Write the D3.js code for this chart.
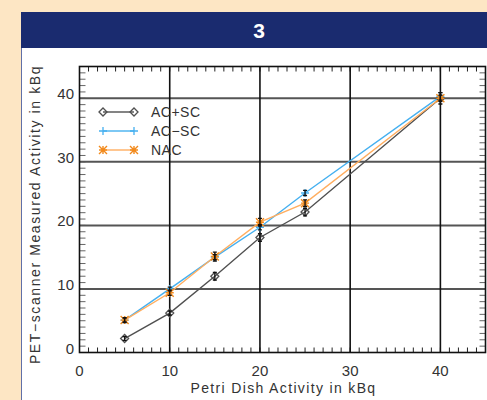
<!DOCTYPE html>
<html><head><meta charset="utf-8">
<script src="https://cdn.jsdelivr.net/npm/d3@7"></script>
<style>
html,body{margin:0;padding:0;background:#fde6c4;}
svg{display:block;}
</style></head>
<body>
<svg id="c" width="487" height="400"></svg>
<script>
const title = "3";
const xValues = [5, 10, 15, 20, 25, 40];
const acsc = [2.2, 6.2, 12.0, 18.1, 22.1, 40.0];
const acscErr = [0.3, 0.3, 0.6, 0.6, 0.6, 0.9];
const acNoSc = [5.1, 10.0, 15.0, 19.7, 25.1, 40.3];
const acNoScErr = [0.3, 0.3, 0.4, 0.4, 0.4, 0.6];
const nac = [5.1, 9.4, 15.1, 20.5, 23.5, 40.0];
const nacErr = [0.4, 0.4, 0.7, 0.6, 0.5, 0.5];
const seriesNames = ["AC+SC", "AC\u2212SC", "NAC"];
const xTicks = [0, 10, 20, 30, 40];
const yTicks = [0, 10, 20, 30, 40];
const xTitle = "Petri Dish Activity in kBq";
const yTitle = "PET\u2212scanner Measured Activity in kBq";

const svg = d3.select("#c");
const font = "'Liberation Sans', Arial, sans-serif";

// header & panel
svg.append("rect").attr("x",21).attr("y",12).attr("width",480).attr("height",36).attr("fill","#1a2b6f");
svg.append("rect").attr("x",22).attr("y",48).attr("width",470).attr("height",360).attr("fill","#ffffff");
svg.append("line").attr("x1",21.5).attr("x2",21.5).attr("y1",48).attr("y2",400).attr("stroke","#6070a8").attr("stroke-width",1);
svg.append("text").attr("x",259).attr("y",38).attr("text-anchor","middle").attr("fill","#fff")
  .attr("font-family",font).attr("font-weight","bold").attr("font-size",21).text(title);

const L=79.5, R=485.5, T=66.5, B=352.5;
const x = d3.scaleLinear().domain([0,45]).range([L,R]);
const y = d3.scaleLinear().domain([0,45]).range([B,T]);

const g = svg.append("g");
// minor ticks
const minor = d3.range(1,45);
minor.forEach(v=>{
  g.append("line").attr("x1",x(v)).attr("x2",x(v)).attr("y1",B).attr("y2",B-5).attr("stroke","#222").attr("stroke-width",1);
  g.append("line").attr("x1",x(v)).attr("x2",x(v)).attr("y1",T).attr("y2",T+5).attr("stroke","#222").attr("stroke-width",1);
  g.append("line").attr("x1",L).attr("x2",L+6).attr("y1",y(v)).attr("y2",y(v)).attr("stroke","#666").attr("stroke-width",1);
  g.append("line").attr("x1",R).attr("x2",R-6).attr("y1",y(v)).attr("y2",y(v)).attr("stroke","#666").attr("stroke-width",1);
});
// grid
yTicks.filter(v=>v>0).forEach(v=>{
  g.append("line").attr("x1",L).attr("x2",R).attr("y1",y(v)).attr("y2",y(v)).attr("stroke","#555").attr("stroke-width",2);
});
xTicks.filter(v=>v>0).forEach(v=>{
  g.append("line").attr("x1",x(v)).attr("x2",x(v)).attr("y1",T).attr("y2",B).attr("stroke","#111").attr("stroke-width",1.6);
});
g.append("rect").attr("x",L).attr("y",T).attr("width",R-L).attr("height",B-T).attr("fill","none").attr("stroke","#111").attr("stroke-width",1.6);

// tick labels
xTicks.forEach(v=>{
  g.append("text").attr("x",x(v)).attr("y",376).attr("text-anchor","middle").attr("font-family",font)
   .attr("font-size",15).attr("fill","#333").text(v);
});
yTicks.forEach(v=>{
  g.append("text").attr("x",74).attr("y",y(v)+1).attr("text-anchor","end").attr("font-family",font)
   .attr("font-size",15).attr("fill","#333").text(v);
});
g.append("text").attr("x",(L+R)/2+1).attr("y",393).attr("text-anchor","middle").attr("font-family",font)
  .attr("font-size",14).attr("letter-spacing",1.35).attr("fill","#333").text(xTitle);
g.append("text").attr("transform",`translate(40,${(T+B)/2+5}) rotate(-90)`).attr("text-anchor","middle").attr("font-family",font)
  .attr("font-size",14).attr("letter-spacing",1.6).attr("fill","#333").text(yTitle);

const series = [
  {name:seriesNames[0], vals:acsc, err:acscErr, color:"#505050", marker:"diamond"},
  {name:seriesNames[1], vals:acNoSc, err:acNoScErr, color:"#45b0f0", marker:"plus"},
  {name:seriesNames[2], vals:nac, err:nacErr, color:"#ffae60", mcolor:"#f28a1c", marker:"star"}
];
const line = d3.line().x(d=>x(d[0])).y(d=>y(d[1]));

function marker(sel, type, cx, cy, color){
  const s=4;
  if(type==="diamond"){
    sel.append("path").attr("d",`M${cx-s},${cy}L${cx},${cy-s}L${cx+s},${cy}L${cx},${cy+s}Z`)
      .attr("fill","none").attr("stroke",color).attr("stroke-width",1.3);
  } else if(type==="plus"){
    sel.append("path").attr("d",`M${cx-s},${cy}H${cx+s}M${cx},${cy-s}V${cy+s}`).attr("stroke",color).attr("stroke-width",1.3);
  } else {
    sel.append("path").attr("d",`M${cx-s},${cy}H${cx+s}M${cx},${cy-s}V${cy+s}M${cx-s},${cy-s}L${cx+s},${cy+s}M${cx-s},${cy+s}L${cx+s},${cy-s}`)
      .attr("stroke",color).attr("stroke-width",1.4);
  }
}

series.forEach(s=>{
  const pts = xValues.map((v,i)=>[v,s.vals[i]]);
  g.append("path").attr("d",line(pts)).attr("fill","none").attr("stroke",s.color).attr("stroke-width",1.4);
});
series.forEach(s=>{
  xValues.forEach((v,i)=>{
    marker(g, s.marker, x(v), y(s.vals[i]), s.mcolor||s.color);
  });
});
series.forEach(s=>{
  xValues.forEach((v,i)=>{
    const cx=x(v), y0=y(s.vals[i]-s.err[i]), y1=y(s.vals[i]+s.err[i]);
    g.append("path").attr("d",`M${cx},${y0}V${y1}M${cx-2},${y0}H${cx+2}M${cx-2},${y1}H${cx+2}`)
      .attr("stroke","#111").attr("stroke-width",1.3).attr("fill","none");
  });
});

// legend
const lx1=103, lx2=134, ly=[112,131,150];
series.forEach((s,i)=>{
  g.append("line").attr("x1",lx1).attr("x2",lx2).attr("y1",ly[i]).attr("y2",ly[i]).attr("stroke",s.color).attr("stroke-width",1.4);
  marker(g, s.marker, lx1, ly[i], s.mcolor||s.color);
  marker(g, s.marker, lx2, ly[i], s.mcolor||s.color);
  g.append("text").attr("x",151).attr("y",ly[i]+5).attr("font-family",font).attr("font-size",14)
   .attr("letter-spacing",0.5).attr("fill","#333").text(s.name);
});
</script>
</body></html>
